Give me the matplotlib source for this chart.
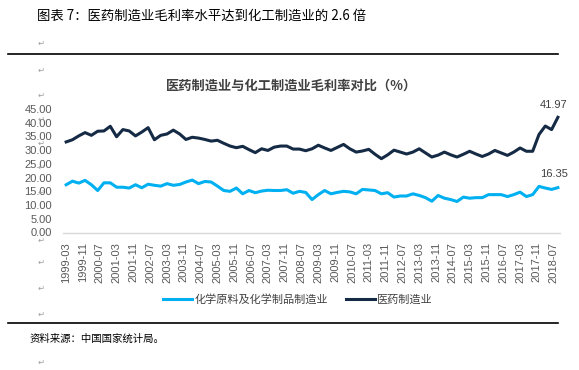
import matplotlib
matplotlib.use('Agg')
import matplotlib.pyplot as plt
from matplotlib.lines import Line2D
import numpy as np

# 医药制造业 毛利率 (%), quarterly from 1999-03
pharma = [33.0, 33.8, 35.2, 36.4, 35.4, 36.9, 37.0, 38.7, 34.9, 37.5,
          37.0, 35.2, 36.6, 38.2, 33.8, 35.4, 35.9, 37.3, 35.9, 33.9,
          34.7, 34.4, 33.9, 33.3, 33.6, 32.5, 31.5, 30.9, 31.4, 30.2,
          29.1, 30.5, 29.9, 31.1, 31.5, 31.5, 30.4, 30.4, 29.8, 30.5,
          31.8, 30.8, 29.9, 31.0, 32.1, 30.5, 29.3, 29.7, 30.3, 28.5,
          26.9, 28.3, 30.0, 29.3, 28.6, 29.3, 30.5, 29.0, 27.5, 28.2,
          29.3, 28.3, 27.5, 28.5, 29.6, 28.6, 27.7, 28.6, 29.9, 29.0,
          28.1, 29.3, 30.8, 29.6, 29.6, 35.7, 38.8, 37.5, 41.97]

# 化学原料及化学制品制造业 毛利率 (%)
chem = [17.4, 18.7, 18.0, 19.0, 17.4, 15.3, 18.1, 18.1, 16.5, 16.5,
        16.2, 17.4, 16.3, 17.6, 17.2, 16.9, 17.8, 17.2, 17.5, 18.4,
        19.1, 17.8, 18.6, 18.4, 16.9, 15.3, 15.0, 16.2, 14.1, 15.3,
        14.5, 15.1, 15.4, 15.3, 15.3, 15.6, 14.3, 15.0, 14.6, 12.0,
        13.8, 15.3, 14.1, 14.6, 15.0, 14.8, 14.1, 15.7, 15.5, 15.3,
        14.1, 14.5, 12.9, 13.3, 13.3, 14.1, 13.5, 12.7, 11.4, 13.5,
        12.5, 12.0, 11.3, 12.9, 12.5, 12.7, 12.7, 13.8, 13.8, 13.8,
        13.1, 13.8, 14.7, 13.1, 13.8, 16.8, 16.2, 15.7, 16.35]

tick_labels = ['1999-03', '1999-11', '2000-07', '2001-03', '2001-11', '2002-07',
               '2003-03', '2003-11', '2004-07', '2005-03', '2005-11', '2006-07',
               '2007-03', '2007-11', '2008-07', '2009-03', '2009-11', '2010-07',
               '2011-03', '2011-11', '2012-07', '2013-03', '2013-11', '2014-07',
               '2015-03', '2015-11', '2016-07', '2017-03', '2017-11', '2018-07']

cjk = ['Noto Sans CJK SC', 'DejaVu Sans']
num = ['Liberation Sans', 'DejaVu Sans']
plt.rcParams['font.family'] = cjk

W, H = 579, 370
fig = plt.figure(figsize=(W / 100, H / 100), dpi=100)


def fx(px):
    return px / W


def fy(py):
    return 1 - py / H


# page text (word document around the chart)
fig.text(fx(37), fy(16), '图表 7：医药制造业毛利率水平达到化工制造业的 2.6 倍',
         fontsize=9.6, color='black', va='center', ha='left')
pm = dict(fontsize=6, color='#a0a0a0', va='center', ha='left', family=cjk)
fig.text(fx(358), fy(18), '↵', **pm)
for yy in [43, 70, 95, 119, 143, 167, 192, 240, 262, 288, 314, 362]:
    fig.text(fx(38), fy(yy), '↵', **pm)

fig.add_artist(Line2D([fx(8), fx(558)], [fy(53.5), fy(53.5)], color='black', lw=1.2))
fig.add_artist(Line2D([fx(8), fx(558)], [fy(323), fy(323)], color='black', lw=1.2))
fig.text(fx(30), fy(339), '资料来源：中国国家统计局。', fontsize=7.5, color='black',
         va='center', ha='left')

# chart
ax = fig.add_axes([fx(63), fy(232.5), fx(560) - fx(63), (232.5 - 109) / H])
months = np.arange(len(pharma)) * 3
ax.plot(months, chem, color='#00b0f0', lw=2.2, solid_joinstyle='round',
        label='化学原料及化学制品制造业')
ax.plot(months, pharma, color='#152a44', lw=2.2, solid_joinstyle='round',
        label='医药制造业')

ax.set_xlim(-1.5, 235)
ax.set_ylim(0, 45)
ax.set_yticks(np.arange(0, 46, 5))
ax.set_yticklabels(['%.2f' % v for v in np.arange(0, 46, 5)], family=num,
                   fontsize=8, color='#595959')
ax.set_xticks(np.arange(len(tick_labels)) * 8)
ax.set_xticklabels(tick_labels, rotation=90, family=num, fontsize=8,
                   color='#595959')
ax.tick_params(length=0)
ax.tick_params(axis='y', pad=8)
ax.tick_params(axis='x', pad=7)
for s in ['top', 'right', 'left']:
    ax.spines[s].set_visible(False)
ax.spines['bottom'].set_color('#d9d9d9')
ax.spines['bottom'].set_linewidth(1)

ax.text(months[-1] - 2, pharma[-1] + 2.6, '%.2f' % pharma[-1], ha='center',
        va='bottom', fontsize=8, color='#404040', family=num)
ax.text(months[-1] - 2, chem[-1] + 3.0, '%.2f' % chem[-1], ha='center',
        va='bottom', fontsize=8, color='#404040', family=num)

fig.text(fx(292), fy(86), '医药制造业与化工制造业毛利率对比（%）', fontsize=9.5,
         fontweight='bold', color='#404040', ha='center', va='center')

fig.legend(loc='center', bbox_to_anchor=(fx(298), fy(299)), ncol=2, frameon=False,
           fontsize=8, handlelength=2.6, columnspacing=1.6, handletextpad=0.2,
           labelcolor='#404040')

fig.savefig('out.png', dpi=100)
